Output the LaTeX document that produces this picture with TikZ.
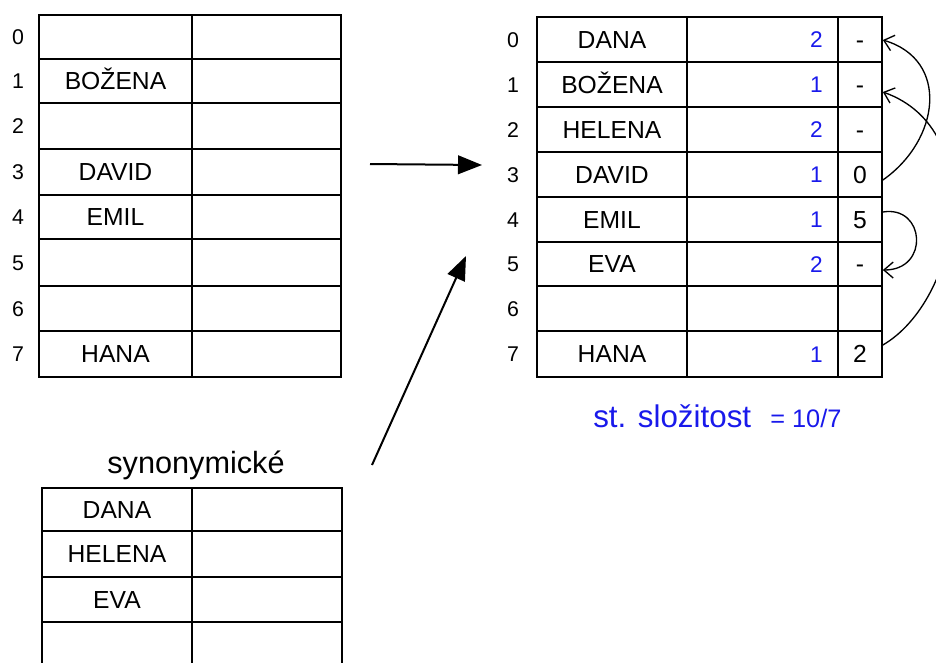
\documentclass[tikz,border=0pt]{standalone}
\usepackage{fontspec}
\setmainfont{Liberation Sans}
\usetikzlibrary{arrows.meta,calc}
\definecolor{countblue}{RGB}{25,25,235}
\begin{document}
\begin{tikzpicture}[x=0.75pt,y=-0.75pt,
  cell/.style={draw, line width=1.3pt, inner sep=0pt, text height=13.4pt, text depth=0pt,
    font=\fontsize{18.5pt}{20pt}\selectfont},
  idx/.style={inner sep=0pt, text height=11.5pt, text depth=0pt, font=\fontsize{16pt}{18pt}\selectfont},
  cnt/.style={inner sep=0pt, anchor=east, text height=12pt, text depth=0pt, text=countblue,
    font=\fontsize{17pt}{19pt}\selectfont},
  bigarrow/.style={line width=1.5pt, -{Triangle[length=18pt,width=14pt]}},
  link/.style={line width=1pt, -{Straight Barb[length=7pt,width=12pt,line width=1pt]}},
]
\useasboundingbox (0,0) rectangle (936,662);

% primary table (before the move)
\foreach \r/\t/\b/\n in {0/15/59/{},1/59/103/BOŽENA,2/103/149/{},3/149/195/DAVID,
    4/195/239/EMIL,5/239/286/{},6/286/331/{},7/331/377/HANA} {
  \node[cell, minimum width=153*0.75pt, minimum height={(\b-\t)*0.75pt}] (La\r) at (115.5,{(\t+\b)/2}) {\n};
  \node[cell, minimum width=149*0.75pt, minimum height={(\b-\t)*0.75pt}] (Lb\r) at (266.5,{(\t+\b)/2}) {};
  \node[idx] (Li\r) at (18,{(\t+\b)/2}) {\r};
}

% overflow area
\node[anchor=base, inner sep=0pt, font=\fontsize{23pt}{25pt}\selectfont] (syn) at (196,473) {synonymické};
\foreach \r/\t/\b/\n in {0/488/531/DANA,1/531/577/HELENA,2/577/622/EVA,3/622/668/{}} {
  \node[cell, minimum width=150*0.75pt, minimum height={(\b-\t)*0.75pt}] (Sa\r) at (117,{(\t+\b)/2}) {\n};
  \node[cell, minimum width=150*0.75pt, minimum height={(\b-\t)*0.75pt}] (Sb\r) at (267,{(\t+\b)/2}) {};
}

% resulting table with counts and links
\foreach \r/\t/\b/\n/\v/\p in {0/17/62/DANA/2/-,1/62/107/BOŽENA/1/-,2/107/152/HELENA/2/-,
    3/152/197/DAVID/1/0,4/197/242/EMIL/1/5,5/242/286/EVA/2/-,6/286/331/{}/{}/{},7/331/377/HANA/1/2} {
  \node[cell, minimum width=150*0.75pt, minimum height={(\b-\t)*0.75pt}] (Ra\r) at (612,{(\t+\b)/2}) {\n};
  \node[cell, minimum width=151*0.75pt, minimum height={(\b-\t)*0.75pt}] (Rb\r) at (762.5,{(\t+\b)/2}) {};
  \node[cell, minimum width=44*0.75pt, minimum height={(\b-\t)*0.75pt}] (Rc\r) at (860,{(\t+\b)/2}) {\p};
  \node[cnt] (Rn\r) at (823,{(\t+\b)/2}) {\v};
  \node[idx] (Ri\r) at (513,{(\t+\b)/2}) {\r};
}

\node[anchor=base west, inner sep=0pt, text=countblue, font=\fontsize{23.5pt}{25pt}\selectfont] (cx) at (593,427) {st. složitost};
\node[anchor=base west, inner sep=0pt, text=countblue, font=\fontsize{19pt}{21pt}\selectfont] (cv) at (770,427) {= 10/7};

% transformation arrows
\coordinate (m0) at (370,164);
\coordinate (m1) at (482,165);
\draw[bigarrow] (m0) -- (m1);
\coordinate (d0) at (372,465);
\coordinate (d1) at (466,256);
\draw[bigarrow] (d0) -- (d1);

% chain links
\draw[link] ($(Rc3.east)+(0,5.5)$) .. controls (940,140) and (950,60) .. ($(Rc0.east)+(0,0.5)$);
\draw[link] ($(Rc7.east)+(0,-9)$) .. controls (960,300) and (990,130) .. ($(Rc1.east)+(0,7.5)$);
\draw[link] ($(Rc4.east)+(0,-7.5)$) .. controls (925,205) and (930,270) .. ($(Rc5.east)+(0,6)$);
\end{tikzpicture}
\end{document}
